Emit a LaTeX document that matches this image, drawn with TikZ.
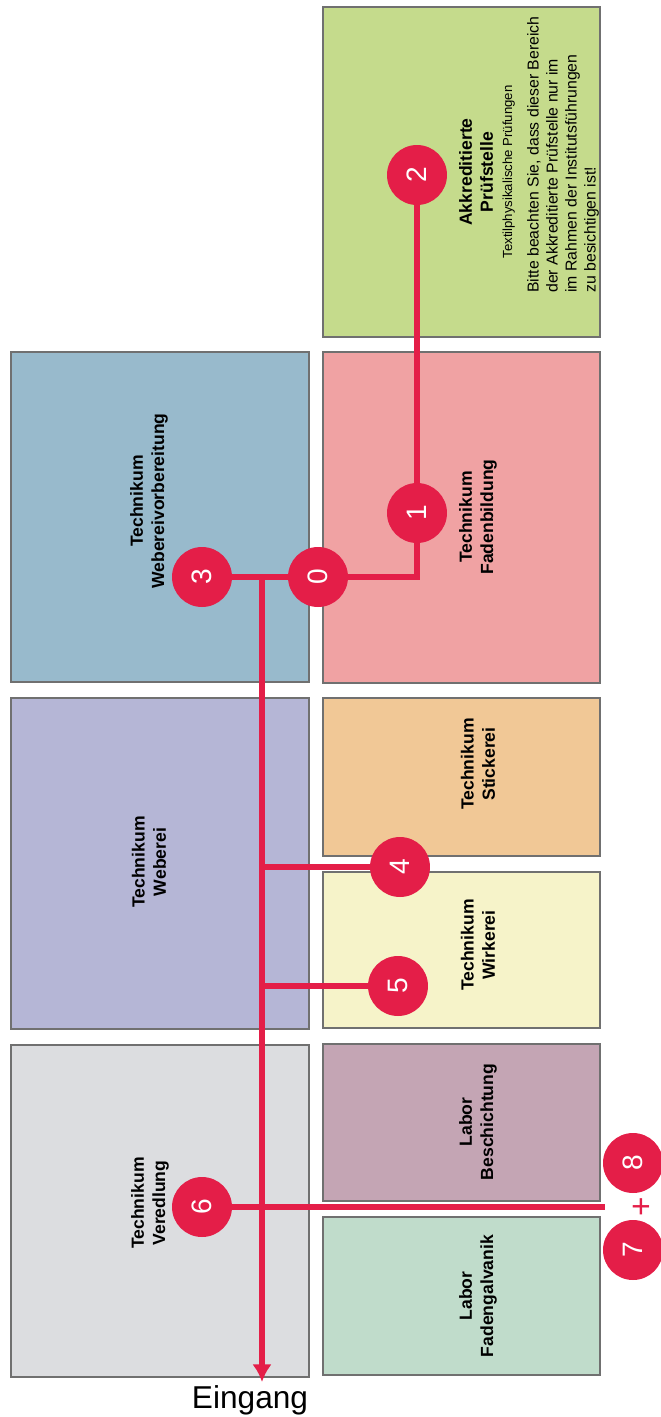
\documentclass[tikz,border=0pt]{standalone}
\usepackage{fontspec}
\setmainfont{Liberation Sans}
\definecolor{roomPruef}{RGB}{197,219,140}
\definecolor{roomVorb}{RGB}{152,186,204}
\definecolor{roomFaden}{RGB}{240,162,163}
\definecolor{roomWeb}{RGB}{181,182,214}
\definecolor{roomStick}{RGB}{241,200,150}
\definecolor{roomWirk}{RGB}{246,243,201}
\definecolor{roomVered}{RGB}{220,221,224}
\definecolor{roomBesch}{RGB}{196,165,180}
\definecolor{roomGalv}{RGB}{192,220,203}
\definecolor{tourRed}{RGB}{228,30,72}
\definecolor{wallGray}{RGB}{112,112,112}
\usetikzlibrary{arrows.meta,positioning}

\begin{document}
\begin{tikzpicture}[x=0.02cm, y=-0.02cm,
    room/.style={draw=wallGray, line width=0.7pt},
    roomlabel/.style={rotate=90, align=center, inner sep=0pt, font=\bfseries\fontsize{10}{12}\selectfont},
    stop/.style={circle, fill=tourRed, text=white, minimum size=1.2cm, inner sep=0pt, rotate=90, font=\fontsize{16}{16}\selectfont},
    route/.style={draw=tourRed, line width=3.4pt}]
    \useasboundingbox (0,0) rectangle (661,1417);

    % rooms
    \draw[room, fill=roomPruef] (323,7) rectangle (600,337);
    \draw[room, fill=roomVorb] (11,352) rectangle (309,682);
    \draw[room, fill=roomFaden] (323,352) rectangle (600,683);
    \draw[room, fill=roomWeb] (11,698) rectangle (309,1029);
    \draw[room, fill=roomStick] (323,698) rectangle (600,856);
    \draw[room, fill=roomWirk] (323,872) rectangle (600,1028);
    \draw[room, fill=roomVered] (11,1045) rectangle (309,1377);
    \draw[room, fill=roomBesch] (323,1044) rectangle (600,1201);
    \draw[room, fill=roomGalv] (323,1217) rectangle (600,1375);

    \node[roomlabel] (lPruef) at (487,172) {Akkreditierte\\Prüfstelle\\[-1pt]{\mdseries\fontsize{7.5}{9}\selectfont Textilphysikalische Prüfungen}};
    \node[rotate=90, anchor=west, align=left, inner sep=0pt, font=\fontsize{9}{10.8}\selectfont] (hint) at (563,293) {Bitte beachten Sie, dass dieser Bereich\\der Akkreditierte Prüfstelle nur im\\im Rahmen der Institutsführungen\\zu besichtigen ist!};
    \node[roomlabel] (lVorb) at (149,501) {Technikum\\Webereivorbereitung};
    \node[roomlabel] (lFaden) at (478,517) {Technikum\\Fadenbildung};
    \node[roomlabel] (lWeb) at (149,862) {Technikum\\Weberei};
    \node[roomlabel] (lStick) at (478,764) {Technikum\\Stickerei};
    \node[roomlabel] (lWirk) at (478,945) {Technikum\\Wirkerei};
    \node[roomlabel] (lVered) at (150,1203) {Technikum\\Veredlung};
    \node[roomlabel] (lBesch) at (478,1122) {Labor\\Beschichtung};
    \node[roomlabel] (lGalv) at (478,1296) {Labor\\Fadengalvanik};

    % tour stops
    \node[stop] (s0) at (318,577) {0};
    \node[stop] (s1) at (417,513) {1};
    \node[stop] (s2) at (417,175) {2};
    \node[stop] (s3) at (202,577) {3};
    \node[stop] (s4) at (400,867) {4};
    \node[stop] (s5) at (398,986) {5};
    \node[stop] (s6) at (202,1207) {6};
    \node[stop] (s7) at (633,1250) {7};
    \node[stop] (s8) at (633,1163) {8};
    \node[rotate=90, text=tourRed, inner sep=0pt, font=\fontsize{19}{19}\selectfont] (plus) at (643,1207) {+};

    \coordinate (j3) at (262,577);
    \coordinate (j4) at (262,867);
    \coordinate (j5) at (262,986);
    \coordinate (door) at (262,1382);
    \coordinate (e6) at (605,1207);

    \draw[route] (s3) -- (s0);
    \draw[route] (s0) -| (s1);
    \draw[route] (s1) -- (s2);
    \draw[route] (j4) -- (s4);
    \draw[route] (j5) -- (s5);
    \draw[route] (s6) -- (e6);
    \draw[route, -{Latex[length=10pt, width=11pt]}] (j3) -- (door);

    \node[anchor=base, inner sep=0pt, font=\fontsize{18}{18}\selectfont] (eingang) at (250,1408) {Eingang};
\end{tikzpicture}
\end{document}
